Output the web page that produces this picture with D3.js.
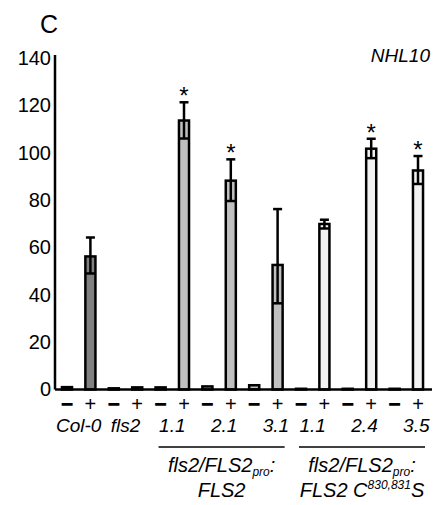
<!DOCTYPE html>
<html>
<head>
<meta charset="utf-8">
<script src="https://cdn.jsdelivr.net/npm/d3@7"></script>
<style>
  body { margin: 0; background: #fff; }
  svg { display: block; font-family: "Liberation Sans", Arial, sans-serif; }
</style>
</head>
<body>
<div id="chart"></div>
<script>
// lines / genotypes, each measured with mock (−) and flg22 (+)
const lines = ["Col-0", "fls2", "1.1", "2.1", "3.1", "1.1", "2.4", "3.5"];
const lineGroup = ["col", "col", "wt", "wt", "wt", "mut", "mut", "mut"];
const treatments = ["−", "+"];

const mockVal = [1.0, 0.5, 0.9, 1.3, 1.8, 0.3, 0.3, 0.3];
const mockErr = [0.4, 0.2, 0.3, 0.5, 0.6, 0.1, 0.1, 0.1];
const flgVal = [56.2, 0.9, 113.6, 88.2, 52.6, 69.9, 101.7, 92.5];
const flgErrUp = [8.0, 0.3, 7.7, 9.0, 23.6, 1.8, 4.2, 6.1];
const flgErrDown = [7.2, 0.3, 7.6, 8.6, 16.2, 1.9, 4.0, 5.7];
const significant = [false, false, true, true, false, false, true, true];

const yTicks = [0, 20, 40, 60, 80, 100, 120, 140];
const groupFill = { col: "#808080", wt: "#c0c0c0", mut: "#f2f2f2" };

const W = 433, H = 505;
const svg = d3.select("#chart").append("svg").attr("width", W).attr("height", H);

// flatten into 16 bars
const bars = [];
lines.forEach((l, i) => {
  bars.push({ key: i * 2, line: i, sign: treatments[0], v: mockVal[i], up: mockErr[i], down: mockErr[i], sig: false });
  bars.push({ key: i * 2 + 1, line: i, sign: treatments[1], v: flgVal[i], up: flgErrUp[i], down: flgErrDown[i], sig: significant[i] });
});

const x = d3.scaleBand()
  .domain(bars.map(d => d.key))
  .range([55.3, 429.7])
  .paddingInner(0.57)
  .paddingOuter(0.285);

const y = d3.scaleLinear().domain([0, 140]).range([389.5, 58]);

// y axis
const yAxis = svg.append("g")
  .attr("transform", "translate(55,0)")
  .call(d3.axisLeft(y).tickValues(yTicks).tickSize(0).tickPadding(4));
yAxis.select(".domain").attr("stroke", "#000").attr("stroke-width", 2.5)
  .attr("d", `M0,${y(140) - 3}V${y(0)}`);
yAxis.selectAll("text").attr("font-size", 20).attr("fill", "#000")
  .attr("font-family", "Liberation Sans, Arial, sans-serif");

const cx = d => x(d.key) + x.bandwidth() / 2;

// bars
svg.append("g").selectAll("rect")
  .data(bars).join("rect")
  .attr("x", d => x(d.key))
  .attr("width", x.bandwidth())
  .attr("y", d => y(d.v))
  .attr("height", d => y(0) - y(d.v))
  .attr("fill", d => groupFill[lineGroup[d.line]])
  .attr("stroke", "#000")
  .attr("stroke-width", 2.5);

// error bars (only for visible bars)
const eb = svg.append("g").attr("stroke", "#000").attr("stroke-width", 2.5)
  .selectAll("g").data(bars.filter(d => d.v > 5)).join("g");
eb.append("line")
  .attr("x1", cx).attr("x2", cx)
  .attr("y1", d => y(d.v + d.up)).attr("y2", d => y(d.v - d.down));
eb.append("line")
  .attr("x1", d => cx(d) - 4.5).attr("x2", d => cx(d) + 4.5)
  .attr("y1", d => y(d.v + d.up)).attr("y2", d => y(d.v + d.up));
eb.append("line")
  .attr("x1", d => cx(d) - 4.5).attr("x2", d => cx(d) + 4.5)
  .attr("y1", d => y(d.v - d.down)).attr("y2", d => y(d.v - d.down));

// asterisks
svg.append("g").selectAll("text")
  .data(bars.filter(d => d.sig)).join("text")
  .attr("x", cx)
  .attr("y", d => y(d.v + d.up) + 2)
  .attr("text-anchor", "middle")
  .attr("font-size", 24)
  .text("*");

// baseline
svg.append("line")
  .attr("x1", 55).attr("x2", 432)
  .attr("y1", y(0)).attr("y2", y(0))
  .attr("stroke", "#000").attr("stroke-width", 2.5);

// −/+ row
svg.append("g").selectAll("text")
  .data(bars).join("text")
  .attr("x", cx)
  .attr("y", 411)
  .attr("text-anchor", "middle")
  .attr("font-size", 20)
  .attr("stroke", d => d.sign === "+" ? "none" : "#000")
  .attr("stroke-width", 1.2)
  .text(d => d.sign);

// line labels
const pairCenter = i => (x(i * 2) + x(i * 2 + 1) + x.bandwidth()) / 2;
const idxInGroup = i => lineGroup.slice(0, i).filter(g => g === lineGroup[i]).length;
svg.append("g").selectAll("text")
  .data(lines).join("text")
  .attr("x", (d, i) => pairCenter(i) + (lineGroup[i] === "col" ? 0 : idxInGroup(i) * 5))
  .attr("y", 432)
  .attr("text-anchor", "middle")
  .attr("font-size", 19)
  .attr("font-style", "italic")
  .text(d => d);

// group brackets and titles
const groupSpan = g => {
  const idx = lines.map((_, i) => i).filter(i => lineGroup[i] === g);
  return [x(idx[0] * 2) + 3, x(idx[idx.length - 1] * 2 + 1) + x.bandwidth() + 2];
};
[["wt", "FLS2", null], ["mut", "FLS2 C", "830,831"]].forEach(([g, second, sup]) => {
  const [a, b] = groupSpan(g);
  svg.append("line").attr("x1", a).attr("x2", b).attr("y1", 447).attr("y2", 447)
    .attr("stroke", "#000").attr("stroke-width", 1.5);
  const mid = (a + b) / 2;
  const t1 = svg.append("text").attr("x", mid).attr("y", 472)
    .attr("text-anchor", "middle").attr("font-size", 20).attr("font-style", "italic");
  t1.append("tspan").text("fls2/FLS2");
  t1.append("tspan").attr("font-size", 12).attr("dy", 4).text("pro");
  t1.append("tspan").attr("dy", -4).text(":");
  const t2 = svg.append("text").attr("x", mid).attr("y", 497)
    .attr("text-anchor", "middle").attr("font-size", 20).attr("font-style", "italic");
  t2.append("tspan").text(second);
  if (sup) {
    t2.append("tspan").attr("font-size", 12).attr("dy", -8).text(sup);
    t2.append("tspan").attr("dy", 8).text("S");
  }
});

// panel letter and gene name
svg.append("text").attr("x", 40).attr("y", 33).attr("font-size", 25).text("C");
svg.append("text").attr("x", 430).attr("y", 62).attr("text-anchor", "end")
  .attr("font-size", 19).attr("font-style", "italic").text("NHL10");
</script>
</body>
</html>
